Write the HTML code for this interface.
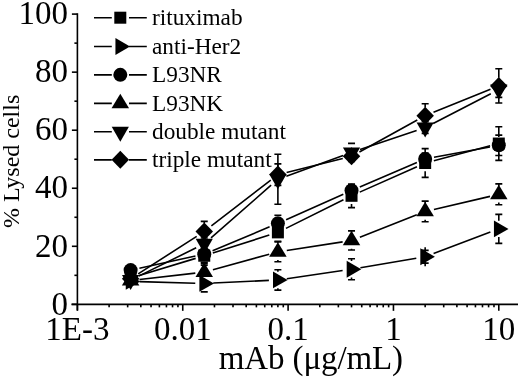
<!DOCTYPE html>
<html><head><meta charset="utf-8"><title>Lysed cells</title>
<style>
html,body{margin:0;padding:0;background:#fff;}
body{width:520px;height:378px;overflow:hidden;}
svg{display:block;}
text{font-family:"Liberation Serif","Times New Roman",serif;fill:#000;}
</style></head><body>
<svg width="520" height="378" viewBox="0 0 520 378">

<g stroke="#000" stroke-width="1.6" fill="none" stroke-linecap="butt">
<line x1="77.40" y1="13.30" x2="77.40" y2="310.35"/>
<line x1="71.40" y1="304.35" x2="518" y2="304.35"/>
<line x1="71.90" y1="304.35" x2="77.40" y2="304.35"/>
<line x1="74.40" y1="275.33" x2="77.40" y2="275.33"/>
<line x1="71.90" y1="246.30" x2="77.40" y2="246.30"/>
<line x1="74.40" y1="217.28" x2="77.40" y2="217.28"/>
<line x1="71.90" y1="188.25" x2="77.40" y2="188.25"/>
<line x1="74.40" y1="159.23" x2="77.40" y2="159.23"/>
<line x1="71.90" y1="130.20" x2="77.40" y2="130.20"/>
<line x1="74.40" y1="101.18" x2="77.40" y2="101.18"/>
<line x1="71.90" y1="72.15" x2="77.40" y2="72.15"/>
<line x1="74.40" y1="43.13" x2="77.40" y2="43.13"/>
<line x1="71.90" y1="14.10" x2="77.40" y2="14.10"/>
<line x1="77.40" y1="304.35" x2="77.40" y2="310.85"/>
<line x1="109.11" y1="304.35" x2="109.11" y2="307.35"/>
<line x1="127.66" y1="304.35" x2="127.66" y2="307.35"/>
<line x1="140.83" y1="304.35" x2="140.83" y2="307.35"/>
<line x1="151.04" y1="304.35" x2="151.04" y2="307.35"/>
<line x1="159.38" y1="304.35" x2="159.38" y2="307.35"/>
<line x1="166.43" y1="304.35" x2="166.43" y2="307.35"/>
<line x1="172.54" y1="304.35" x2="172.54" y2="307.35"/>
<line x1="177.93" y1="304.35" x2="177.93" y2="307.35"/>
<line x1="182.75" y1="304.35" x2="182.75" y2="310.85"/>
<line x1="214.46" y1="304.35" x2="214.46" y2="307.35"/>
<line x1="233.01" y1="304.35" x2="233.01" y2="307.35"/>
<line x1="246.18" y1="304.35" x2="246.18" y2="307.35"/>
<line x1="256.39" y1="304.35" x2="256.39" y2="307.35"/>
<line x1="264.73" y1="304.35" x2="264.73" y2="307.35"/>
<line x1="271.78" y1="304.35" x2="271.78" y2="307.35"/>
<line x1="277.89" y1="304.35" x2="277.89" y2="307.35"/>
<line x1="283.28" y1="304.35" x2="283.28" y2="307.35"/>
<line x1="288.10" y1="304.35" x2="288.10" y2="310.85"/>
<line x1="319.81" y1="304.35" x2="319.81" y2="307.35"/>
<line x1="338.36" y1="304.35" x2="338.36" y2="307.35"/>
<line x1="351.53" y1="304.35" x2="351.53" y2="307.35"/>
<line x1="361.74" y1="304.35" x2="361.74" y2="307.35"/>
<line x1="370.08" y1="304.35" x2="370.08" y2="307.35"/>
<line x1="377.13" y1="304.35" x2="377.13" y2="307.35"/>
<line x1="383.24" y1="304.35" x2="383.24" y2="307.35"/>
<line x1="388.63" y1="304.35" x2="388.63" y2="307.35"/>
<line x1="393.45" y1="304.35" x2="393.45" y2="310.85"/>
<line x1="425.16" y1="304.35" x2="425.16" y2="307.35"/>
<line x1="443.71" y1="304.35" x2="443.71" y2="307.35"/>
<line x1="456.88" y1="304.35" x2="456.88" y2="307.35"/>
<line x1="467.09" y1="304.35" x2="467.09" y2="307.35"/>
<line x1="475.43" y1="304.35" x2="475.43" y2="307.35"/>
<line x1="482.48" y1="304.35" x2="482.48" y2="307.35"/>
<line x1="488.59" y1="304.35" x2="488.59" y2="307.35"/>
<line x1="493.98" y1="304.35" x2="493.98" y2="307.35"/>
<line x1="498.80" y1="304.35" x2="498.80" y2="310.85"/>
</g>
<g font-size="33" text-anchor="end">
<text x="68" y="314.55">0</text>
<text x="68" y="256.50">20</text>
<text x="68" y="198.45">40</text>
<text x="68" y="140.40">60</text>
<text x="68" y="82.35">80</text>
<text x="68" y="24.30">100</text>
</g>
<g font-size="33" text-anchor="middle">
<text x="77.40" y="339.7">1E-3</text>
<text x="182.75" y="339.7">0.01</text>
<text x="288.10" y="339.7">0.1</text>
<text x="393.45" y="339.7">1</text>
<text x="498.80" y="339.7">10</text>
</g>
<text x="218.8" y="368.8" font-size="33" letter-spacing="-0.12">mAb (&#956;g/mL)</text>
<text transform="translate(18.5,228) rotate(-90)" font-size="24">% Lysed cells</text>
<g stroke="#000" stroke-width="1.6" fill="none">
<path d="M139.22 275.60L195.65 258.36M212.83 253.01L269.31 235.09M285.95 228.36L343.47 199.80M359.75 192.13L416.94 166.66M433.87 160.70L490.10 145.85"/>
<path d="M139.61 281.67L195.26 283.20M213.24 283.03L268.90 280.39M286.80 278.67L342.62 270.53M360.40 267.73L416.29 258.25M433.58 253.56L490.38 232.07"/>
<path d="M139.41 268.19L195.46 256.04M212.56 250.67L269.59 226.84M286.11 219.71L343.31 194.23M359.80 187.02L416.89 162.49M434.01 157.30L489.95 146.93"/>
<path d="M139.56 279.53L195.31 273.15M212.93 269.74L269.21 254.21M286.79 250.45L342.63 241.86M359.90 237.19L416.79 214.77M433.93 209.43L490.03 196.38"/>
<path d="M138.69 276.14L196.18 247.81M211.02 237.90L271.12 185.19M286.35 176.17L343.07 155.49M360.06 149.53L416.63 130.46M433.16 123.46L490.80 93.69"/>
<path d="M138.19 273.94L196.68 236.36M211.38 225.99L270.77 180.11M286.63 172.44L342.79 158.49M359.41 151.97L417.28 120.04M433.51 112.32L490.46 89.31"/>
</g>
<g fill="#000" stroke="none">
<rect x="124.62" y="272.23" width="12" height="12"/>
<rect x="198.25" y="249.73" width="12" height="12"/>
<rect x="271.89" y="226.37" width="12" height="12"/>
<rect x="345.53" y="189.80" width="12" height="12"/>
<rect x="419.16" y="157.00" width="12" height="12"/>
<rect x="492.80" y="137.55" width="12" height="12"/>
<polygon points="125.75,273.02 140.35,281.42 125.75,289.82"/>
<polygon points="199.39,275.05 213.99,283.45 199.39,291.85"/>
<polygon points="273.02,271.57 287.62,279.97 273.02,288.37"/>
<polygon points="346.66,260.83 361.26,269.23 346.66,277.63"/>
<polygon points="420.30,248.35 434.90,256.75 420.30,265.15"/>
<polygon points="493.93,220.49 508.53,228.89 493.93,237.29"/>
<circle cx="130.62" cy="270.10" r="7"/>
<circle cx="204.25" cy="254.14" r="7"/>
<circle cx="277.89" cy="223.37" r="7"/>
<circle cx="351.53" cy="190.57" r="7"/>
<circle cx="425.16" cy="158.93" r="7"/>
<circle cx="498.80" cy="145.29" r="7"/>
<polygon points="130.62,270.88 139.37,285.38 121.87,285.38"/>
<polygon points="204.25,262.47 213.00,276.97 195.50,276.97"/>
<polygon points="277.89,242.15 286.64,256.65 269.14,256.65"/>
<polygon points="351.53,230.83 360.28,245.33 342.78,245.33"/>
<polygon points="425.16,201.80 433.91,216.30 416.41,216.30"/>
<polygon points="498.80,184.68 507.55,199.18 490.05,199.18"/>
<polygon points="122.02,275.11 139.22,275.11 130.62,290.11"/>
<polygon points="195.65,238.83 212.85,238.83 204.25,253.83"/>
<polygon points="269.29,174.25 286.49,174.25 277.89,189.25"/>
<polygon points="342.93,147.40 360.13,147.40 351.53,162.40"/>
<polygon points="416.56,122.59 433.76,122.59 425.16,137.59"/>
<polygon points="490.20,84.57 507.40,84.57 498.80,99.57"/>
<polygon points="130.62,269.81 139.37,278.81 130.62,287.81 121.87,278.81"/>
<polygon points="204.25,222.50 213.00,231.50 204.25,240.50 195.50,231.50"/>
<polygon points="277.89,165.61 286.64,174.61 277.89,183.61 269.14,174.61"/>
<polygon points="351.53,147.32 360.28,156.32 351.53,165.32 342.78,156.32"/>
<polygon points="425.16,106.69 433.91,115.69 425.16,124.69 416.41,115.69"/>
<polygon points="498.80,76.94 507.55,85.94 498.80,94.94 490.05,85.94"/>
</g>
<g stroke="#000" stroke-width="1.6" fill="none">
<path d="M127.12 275.33H134.12M127.12 281.13H134.12"/>
<path d="M200.75 249.06H207.75M200.75 262.41H207.75"/>
<path d="M274.39 223.46H281.39M274.39 241.28H281.39M277.89 223.46V224.17M277.89 240.57V241.28"/>
<path d="M348.03 183.98H355.03M348.03 207.61H355.03M351.53 183.98V187.60M351.53 204.00V207.61"/>
<path d="M421.66 148.63H428.66M421.66 177.37H428.66M425.16 148.63V154.80M425.16 171.20V177.37"/>
<path d="M495.30 126.72H502.30M495.30 160.39H502.30M498.80 126.72V135.35M498.80 151.75V160.39"/>
<path d="M127.12 278.52H134.12M127.12 284.32H134.12"/>
<path d="M200.75 275.03H207.75M200.75 291.87H207.75M204.25 275.03V275.25M204.25 291.65V291.87"/>
<path d="M274.39 269.81H281.39M274.39 290.13H281.39M277.89 269.81V271.77M277.89 288.17V290.13"/>
<path d="M348.03 258.78H355.03M348.03 279.68H355.03M351.53 258.78V261.03M351.53 277.43V279.68"/>
<path d="M421.66 250.36H428.66M421.66 263.13H428.66"/>
<path d="M495.30 214.37H502.30M495.30 243.40H502.30M498.80 214.37V220.69M498.80 237.09V243.40"/>
<path d="M127.12 267.20H134.12M127.12 273.00H134.12"/>
<path d="M200.75 243.11H207.75M200.75 265.17H207.75M204.25 243.11V245.94M204.25 262.34V265.17"/>
<path d="M274.39 215.24H281.39M274.39 231.50H281.39"/>
<path d="M348.03 184.77H355.03M348.03 196.38H355.03"/>
<path d="M421.66 153.13H428.66M421.66 164.74H428.66"/>
<path d="M495.30 135.13H502.30M495.30 155.45H502.30M498.80 135.13V137.09M498.80 153.49V155.45"/>
<path d="M127.12 277.65H134.12M127.12 283.45H134.12"/>
<path d="M200.75 263.42H207.75M200.75 280.84H207.75M204.25 263.42V263.93M204.25 280.33V280.84"/>
<path d="M274.39 241.95H281.39M274.39 261.68H281.39M277.89 241.95V243.61M277.89 260.01V261.68"/>
<path d="M348.03 230.92H355.03M348.03 250.07H355.03M351.53 230.92V232.30M351.53 248.70V250.07"/>
<path d="M421.66 201.17H428.66M421.66 221.77H428.66M425.16 201.17V203.27M425.16 219.67V221.77"/>
<path d="M495.30 183.90H502.30M495.30 204.79H502.30M498.80 183.90V186.15M498.80 202.55V204.79"/>
<path d="M127.12 277.21H134.12M127.12 283.02H134.12"/>
<path d="M200.75 238.03H207.75M200.75 249.64H207.75"/>
<path d="M274.39 154.29H281.39M274.39 204.21H281.39M277.89 154.29V171.05M277.89 187.45V204.21"/>
<path d="M348.03 143.41H355.03M348.03 161.40H355.03M351.53 143.41V144.20M351.53 160.60V161.40"/>
<path d="M421.66 121.78H428.66M421.66 133.39H428.66"/>
<path d="M495.30 81.73H502.30M495.30 97.40H502.30"/>
<path d="M127.12 275.91H134.12M127.12 281.71H134.12"/>
<path d="M200.75 221.34H207.75M200.75 241.66H207.75M204.25 221.34V223.30M204.25 239.70V241.66"/>
<path d="M274.39 163.87H281.39M274.39 185.35H281.39M277.89 163.87V166.41M277.89 182.81V185.35"/>
<path d="M348.03 151.97H355.03M348.03 160.68H355.03"/>
<path d="M421.66 103.79H428.66M421.66 127.59H428.66M425.16 103.79V107.49M425.16 123.89V127.59"/>
<path d="M495.30 68.81H502.30M495.30 103.06H502.30M498.80 68.81V77.74M498.80 94.14V103.06"/>
<path d="M425.16 247.2V266.2"/>
</g>
<g stroke="#000" stroke-width="1.6" fill="none">
<path d="M94 17.70H111.8M129 17.70H146.8"/>
<path d="M94 46.50H111.8M129 46.50H146.8"/>
<path d="M94 74.85H111.8M129 74.85H146.8"/>
<path d="M94 103.40H111.8M129 103.40H146.8"/>
<path d="M94 131.70H111.8M129 131.70H146.8"/>
<path d="M94 159.85H111.8M129 159.85H146.8"/>
</g>
<g fill="#000">
<rect x="114.30" y="11.70" width="12" height="12"/>
<polygon points="115.43,38.10 130.03,46.50 115.43,54.90"/>
<circle cx="120.30" cy="74.85" r="7"/>
<polygon points="120.30,93.73 129.05,108.23 111.55,108.23"/>
<polygon points="111.70,126.70 128.90,126.70 120.30,141.70"/>
<polygon points="120.30,150.85 129.05,159.85 120.30,168.85 111.55,159.85"/>
</g>
<g font-size="23.3">
<text x="152" y="25.00">rituximab</text>
<text x="152" y="53.80">anti-Her2</text>
<text x="152" y="82.15">L93NR</text>
<text x="152" y="110.70">L93NK</text>
<text x="152" y="139.00">double mutant</text>
<text x="152" y="167.15">triple mutant</text>
</g>
</svg>
</body></html>
